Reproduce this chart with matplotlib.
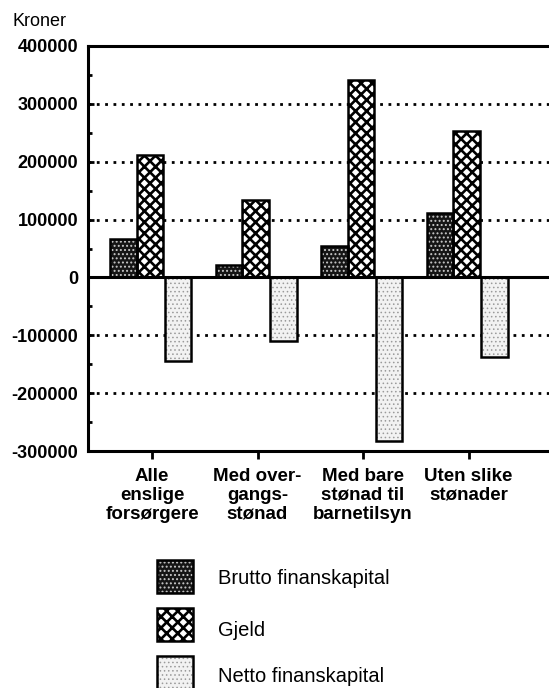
import matplotlib
matplotlib.use("Agg")
import matplotlib.pyplot as plt
from matplotlib.patches import Rectangle
import numpy as np

# ── Data ──
categories = ["Alle\nenslige\nforsørgere", "Med over-\ngangs-\nstønad",
              "Med bare\nstønad til\nbarnetilsyn", "Uten slike\nstønader"]
brutto = [67000, 21000, 55000, 111000]
gjeld = [211000, 133000, 341000, 253000]
netto = [-144000, -110000, -282000, -137000]
series_names = ["Brutto finanskapital", "Gjeld", "Netto finanskapital"]
y_ticks = [-300000, -200000, -100000, 0, 100000, 200000, 300000, 400000]

plt.rcParams["font.family"] = ["Liberation Sans", "DejaVu Sans"]

W, H = 549, 688
fig = plt.figure(figsize=(W / 100, H / 100), dpi=100)
ax = fig.add_axes([88 / W, 1 - 451 / H, (560 - 88) / W, (451 - 46) / H])

# style per series: face, hatch colour, hatch, hatch linewidth
styles = [
    ("#151515", "#c8c8c8", "....", 0.9),
    ("white", "black", "xxx", 1.9),
    ("#f2f2f2", "#9a9a9a", "....", 0.6),
]
offsets = [-0.27, -0.02, 0.245]
width = 0.25
x = np.arange(len(categories))

# dotted gridlines behind bars
for yv in [300000, 200000, 100000, -100000, -200000]:
    ax.axhline(yv, color="black", lw=2, linestyle=(0, (1, 2)), zorder=0)

for vals, off, (fc, hc, hatch, hlw) in zip([brutto, gjeld, netto], offsets, styles):
    with plt.rc_context({"hatch.linewidth": hlw}):
        ax.bar(x + off, vals, width, color=fc, edgecolor=hc, hatch=hatch,
               linewidth=0, zorder=2)
    ax.bar(x + off, vals, width, fill=False, edgecolor="black",
           linewidth=1.8, zorder=3)

ax.axhline(0, color="black", lw=2.2, zorder=4)

ax.set_xlim(-0.6066, 3.867)
ax.set_ylim(-300000, 400000)

for side in ["left", "bottom", "top", "right"]:
    ax.spines[side].set_linewidth(2.2)

ax.set_yticks(y_ticks)
ax.set_yticklabels([str(v) for v in y_ticks], fontsize=13, fontweight="bold")
ax.set_yticks(np.arange(-250000, 400000, 100000), minor=True)
ax.tick_params(axis="y", which="major", direction="in", length=4, width=2, pad=7)
ax.tick_params(axis="y", which="minor", direction="in", length=3, width=2)

ax.set_xticks(x)
ax.set_xticklabels(categories, fontsize=13.5, fontweight="bold", linespacing=1.15)
ax.tick_params(axis="x", direction="out", length=6, width=2, pad=6)

fig.text(13 / W, 1 - 22 / H, "Kroner", fontsize=13, va="center", ha="left")

# ── Legend drawn by hand ──
box_tops = [560, 608, 656]
text_y = [578, 630, 676]
for (fc, hc, hatch, hlw), top, ty, name in zip(styles, box_tops, text_y, series_names):
    with plt.rc_context({"hatch.linewidth": hlw}):
        fig.patches.append(Rectangle((157 / W, 1 - (top + 33) / H), 36 / W, 33 / H,
                                     transform=fig.transFigure, facecolor=fc,
                                     edgecolor=hc, hatch=hatch, linewidth=0))
    fig.patches.append(Rectangle((157 / W, 1 - (top + 33) / H), 36 / W, 33 / H,
                                 transform=fig.transFigure, fill=False,
                                 edgecolor="black", linewidth=1.8))
    fig.text(218 / W, 1 - ty / H, name, fontsize=14.5, va="center", ha="left")

fig.savefig("out.png", dpi=100)
